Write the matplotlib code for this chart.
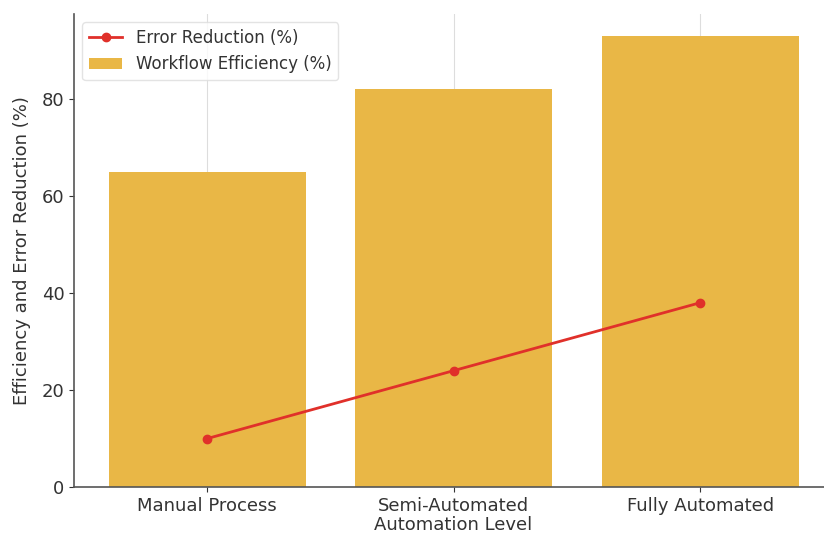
import matplotlib
matplotlib.use("Agg")
import matplotlib.pyplot as plt
import numpy as np

categories = ["Manual Process", "Semi-Automated", "Fully Automated"]
efficiency = [65, 82, 93]
error_reduction = [10, 24, 38]

fig = plt.figure(figsize=(8.24, 5.37), dpi=100)
ax = fig.add_axes([0.09, 0.093, 0.92, 0.881])

x = np.arange(len(categories))
ax.bar(x, efficiency, width=0.8, color="#E9B746", label="Workflow Efficiency (%)", zorder=2)
ax.plot(x, error_reduction, color="#E0302A", marker="o", markersize=6, linewidth=2,
        label="Error Reduction (%)", zorder=3)

ax.set_xlim(-0.54, 2.535)
ax.set_ylim(0, 97.5)
ax.set_xticks(x)
ax.set_xticklabels(categories, fontsize=13, color="#333333")
ax.set_yticks([0, 20, 40, 60, 80])
ax.tick_params(axis="y", labelsize=13, colors="#333333")
ax.tick_params(axis="x", colors="#333333")
ax.set_xlabel("Automation Level", fontsize=13, color="#333333", labelpad=1)
ax.set_ylabel("Efficiency and Error Reduction (%)", fontsize=13, color="#333333", labelpad=8)

ax.grid(axis="x", color="#dddddd", linewidth=0.8, zorder=0)
for side in ["top", "right"]:
    ax.spines[side].set_visible(False)
for side in ["left", "bottom"]:
    ax.spines[side].set_color("#555555")
    ax.spines[side].set_linewidth(1.2)

ax.legend(loc="upper left", fontsize=12, frameon=True, edgecolor="#dddddd",
          labelcolor="#333333")

fig.savefig("out.png", dpi=100)
